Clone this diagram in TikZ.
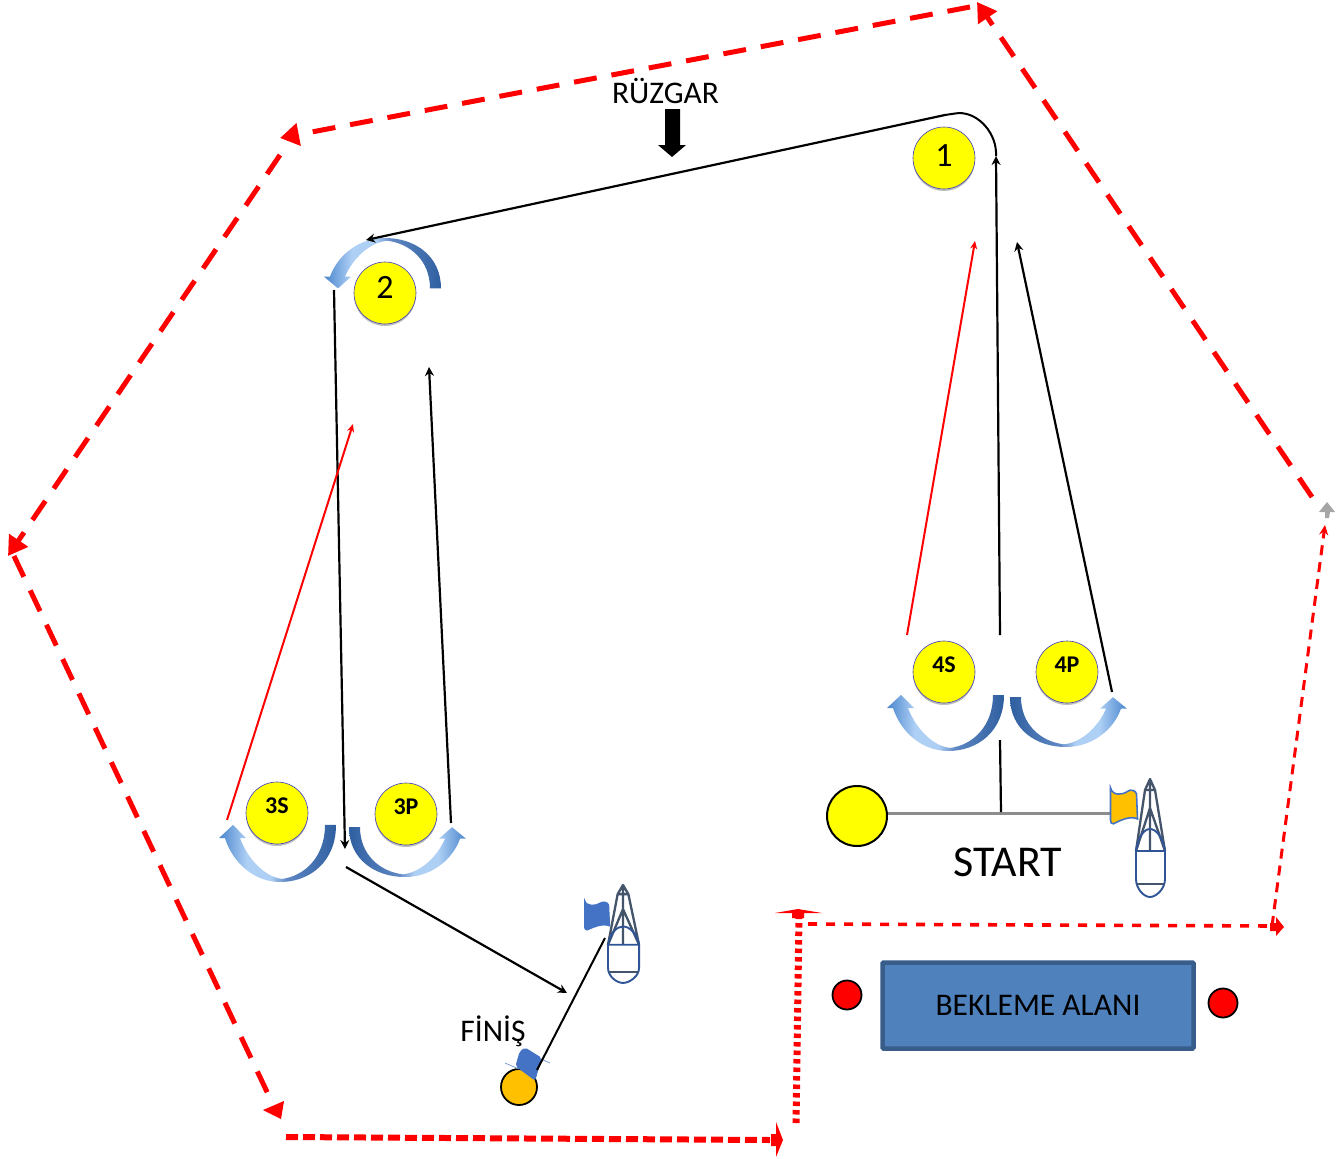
\documentclass[tikz,border=0pt]{standalone}
\usepackage{fontspec}
\setmainfont{Carlito}
\usetikzlibrary{arrows.meta,shadows,calc}
\definecolor{hexred}{RGB}{255,0,0}
\definecolor{buoyyellow}{RGB}{255,255,0}
\definecolor{boatgrey}{RGB}{68,84,106}
\definecolor{boatblue}{RGB}{47,85,151}
\definecolor{flagblue}{RGB}{68,114,196}
\definecolor{flagorange}{RGB}{255,192,0}
\definecolor{boxfill}{RGB}{79,129,189}
\definecolor{boxline}{RGB}{56,93,138}
\definecolor{arcdark}{RGB}{47,95,160}
\definecolor{arcmid}{RGB}{74,134,205}
\definecolor{arcdim}{RGB}{95,135,195}
\definecolor{arclight}{RGB}{175,208,245}
\pgfdeclarehorizontalshading{uturnrightshade}{100bp}{
  color(0bp)=(arcmid); color(25bp)=(arcmid); color(37bp)=(arclight); color(47bp)=(arclight);
  color(54bp)=(arcdim); color(75bp)=(arcdark); color(100bp)=(arcdark)}
\pgfdeclarehorizontalshading{uturnleftshade}{100bp}{
  color(0bp)=(arcdark); color(25bp)=(arcdark); color(46bp)=(arcdim); color(53bp)=(arclight);
  color(63bp)=(arclight); color(75bp)=(arcmid); color(100bp)=(arcmid)}
\tikzset{
  buoy/.style={circle,draw=blue!55!gray,line width=.6pt,fill=buoyyellow,minimum size=62pt,inner sep=0pt,
    drop shadow={shadow xshift=0pt,shadow yshift=-2pt,opacity=.25,fill=black}},
  buoylabel/.style={font=\bfseries\fontsize{24}{24}\selectfont},
  buoynum/.style={font=\fontsize{34}{34}\selectfont},
  plainbuoy/.style={circle,draw=black,line width=2pt,inner sep=0pt},
  course/.style={line width=2.2pt,draw=black,-{Stealth[length=9pt,width=9pt]}},
  redcourse/.style={line width=2pt,draw=hexred,-{Stealth[length=8pt,width=7pt]}},
  hexdash/.style={draw=hexred,line width=5pt,dash pattern=on 23pt off 15pt,-{Triangle[length=19pt,width=22pt]}},
  arrowfix/.style={fill=hexred,draw=none},
  hdash/.style={draw=hexred,line width=3.6pt,dash pattern=on 9pt off 9pt},
  vdash/.style={draw=hexred,line width=7pt,dash pattern=on 4.5pt off 4pt},
  rdash/.style={draw=hexred,line width=3pt,dash pattern=on 10pt off 7pt},
  bdash/.style={draw=hexred,line width=6pt,dash pattern=on 12pt off 5pt},
  smalltext/.style={font=\fontsize{31.5}{31.5}\selectfont,inner sep=0pt},
  uturnL/.style={shading=uturnleftshade},
  uturnR/.style={shading=uturnrightshade},
  uturnpath/.style={insert path={
    (56,-56) .. controls (56,-20) and (30,0) .. (0,0) .. controls (-25,0) and (-47,-18) .. (-55,-43)
    -- (-61,-43) -- (-47,-56) -- (-34,-43) -- (-40,-43)
    .. controls (-32,-22) and (-15,-5) .. (2,-3) .. controls (25,-6) and (45,-25) .. (45,-56) -- cycle}},
  boat/.pic={
    \draw[boatgrey,line width=2.3pt,line join=round]
      (-14,72) -- (-5,11) -- (0,0) -- (5,11) -- (15,72) (-5,11) -- (5,11) (0,0) -- (0,72)
      (-14,72) -- (0,29) -- (15,72);
    \draw[boatblue,line width=1.9pt]
      (-14,72) .. controls (-12,58) and (-6,50) .. (0,50) .. controls (6,50) and (13,58) .. (15,72)
      (-14,72) -- (15,72)
      (-14,72) -- (-14,100) .. controls (-14,110) and (-6,118) .. (0,118) .. controls (6,118) and (15,110) .. (15,100) -- (15,72);
    \draw[boatgrey,line width=2.2pt] (-13,105) -- (14,105);
  },
  flagpath/.style={insert path={
    (0,9) .. controls (2,16) and (12,15) .. (17,12) .. controls (20,10) and (25,11) .. (26,14)
    -- (27,35) .. controls (20,32) and (10,36) .. (3,39) .. controls (1,39) and (0,38) .. (0,36) -- cycle}}
}
\begin{document}
\begin{tikzpicture}[x=1pt,y=-1pt]
\useasboundingbox (0,0) rectangle (1342,1159);
\fill[white] (0,0) rectangle (1342,1159);

% boundary coordinates
\coordinate (h1) at (1312,497); \coordinate (h2) at (977,2);
\coordinate (h3) at (970,7);   \coordinate (h4) at (280,138);
\coordinate (h5) at (280,155); \coordinate (h6) at (8,556);
\coordinate (h7) at (14,556);  \coordinate (h8) at (268,1094);
\coordinate (b1) at (286,1137); \coordinate (b2) at (770,1140);
\coordinate (v1) at (796,1123); \coordinate (v2) at (799,916);
\coordinate (t1) at (808,924);  \coordinate (t2) at (1274,926);
\coordinate (r1) at (1272,926); \coordinate (r2) at (1325,525);

% red boundary
\draw[hexdash] (h1) -- (h2);
\draw[hexdash] (h3) -- (h4);
\draw[hexdash] (h5) -- (h6);
\draw[hexdash,-] (h7) -- (h8);
\fill[arrowfix] (263,1110) -- (284,1101) -- (281,1119) -- cycle;
\draw[bdash] (b1) -- (b2);
\fill[arrowfix] (783,1140) -- (776,1122) -- (776,1134) -- (771,1134) -- (771,1146) -- (776,1146) -- (776,1157) -- cycle;
\draw[vdash] (v1) -- (v2);
\fill[arrowfix] (798,909) -- (775,913) -- (792,913) -- (792,918) -- (804,918) -- (804,913) -- (822,913) -- cycle;
\draw[hdash] (t1) -- (t2);
\fill[arrowfix] (1284,927) -- (1276,917) -- (1276,923) -- (1270,923) -- (1270,931) -- (1276,931) -- (1276,936) -- cycle;
\draw[rdash,-{Stealth[length=10pt,width=9pt]}] (r1) -- (r2);
\fill[gray!70] (1327,502) -- (1335,512) -- (1330,512) -- (1329,518) -- (1325,518) -- (1325,512) -- (1319,512) -- cycle;

% wind
\node[smalltext] (wind) at (665.5,91) {RÜZGAR};
\fill[black] (665,109) -- (680,109) -- (680,145) -- (686,145) -- (672,157) -- (658,145) -- (665,145) -- cycle;

% u-turn arrows
\shade[uturnR,shift={(948,751)},uturnpath];
\shade[uturnL,shift={(1066,747)},xscale=-1,yscale=.89,uturnpath];
\shade[uturnR,shift={(280,882)},yscale=1.02,uturnpath];
\shade[uturnL,shift={(405,877)},xscale=-1,yscale=.89,uturnpath];
\shade[uturnR,shift={(385,238)},yscale=-.9,uturnpath];

% buoys
\node[buoy,buoynum] (m1) at (944,158) {\raisebox{5pt}{1}};
\node[buoy,buoynum] (m2) at (385,293) {\raisebox{11pt}{2}};
\node[buoy,buoylabel] (m3s) at (277,813) {\raisebox{14pt}{3S}};
\node[buoy,buoylabel] (m3p) at (406,814) {\raisebox{14pt}{3P}};
\node[buoy,buoylabel] (m4s) at (944,672) {\raisebox{14pt}{4S}};
\node[buoy,buoylabel] (m4p) at (1067,672) {\raisebox{15pt}{4P}};

% start line
\node[plainbuoy,fill=buoyyellow,minimum size=60pt] (sb) at (857,816) {};
\coordinate (sf) at (1112,813.5);
\draw[draw=black!45,line width=3.2pt] (sb.east |- sf) -- (sf);
\coordinate (startj) at (1001,812);
\coordinate (startu) at (1000,740);
\draw[black,line width=2.2pt] (startu) -- (startj);
\pic at (1150,779) {boat};
\path[fill=flagorange,draw=flagblue,line width=1.6pt,shift={(1110.5,777)},yscale=1.2,flagpath];
\node[smalltext,font=\fontsize{44}{44}\selectfont] (start) at (1008,862) {START};

% finish line
\pic[xscale=1.07,yscale=.83] at (623,885) {boat};
\path[fill=flagblue,draw=flagblue,line width=1pt,shift={(584.5,891)},xscale=.93,flagpath];
\node[plainbuoy,fill=flagorange,minimum size=36pt,line width=1.8pt] (fb) at (519,1087) {};
\draw[flagblue!70,line width=.8pt] (505,1063) -- (519,1069) (539,1058) -- (550,1063);
\path[fill=flagblue,draw=flagblue,line width=1pt,rounded corners=2pt,line join=round]
  (520,1052) -- (525,1048) -- (541,1058) -- (535,1080) -- (516,1066) -- cycle;
\coordinate (fa) at (605,938); \coordinate (fc) at (537,1070);
\draw[black,line width=2pt] (fa) -- (fc);
\node[smalltext] (finis) at (493,1031) {FİNİŞ};

% course
\coordinate (c1) at (1000,635); \coordinate (c2) at (996,156);
\coordinate (c3) at (945,115);  \coordinate (c4) at (366,240);
\coordinate (c5) at (334,290);  \coordinate (c6) at (345,849);
\coordinate (c7) at (451,823);  \coordinate (c8) at (429,367);
\coordinate (c9) at (346,867);  \coordinate (c10) at (567,993);
\coordinate (c11) at (1112,692); \coordinate (c12) at (1017,242);
\coordinate (c13) at (907,635); \coordinate (c14) at (975,241);
\coordinate (c15) at (227,820); \coordinate (c16) at (353,424);
\draw[course] (c1) -- (c2);
\draw[line width=2pt,black] (c2) -- (996,152) .. controls (995,130) and (975,110) .. (955,113.5) -- (c3);
\draw[course] (c3) -- (c4);
\draw[course] (c5) -- (c6);
\draw[course] (c7) -- (c8);
\draw[course] (c9) -- (c10);
\draw[course] (c11) -- (c12);
\draw[redcourse] (c13) -- (c14);
\draw[redcourse] (c15) -- (c16);

% waiting area
\node[draw=boxline,fill=boxfill,line width=4.5pt,rounded corners=1pt,minimum width=311pt,minimum height=86pt,smalltext,inner sep=0pt] (wait) at (1038,1005.5) {BEKLEME ALANI};
\node[plainbuoy,fill=hexred,minimum size=29pt,line width=1.8pt] (w1) at (847,995) {};
\node[plainbuoy,fill=hexred,minimum size=29pt,line width=1.8pt] (w2) at (1223,1003) {};
\end{tikzpicture}
\end{document}
